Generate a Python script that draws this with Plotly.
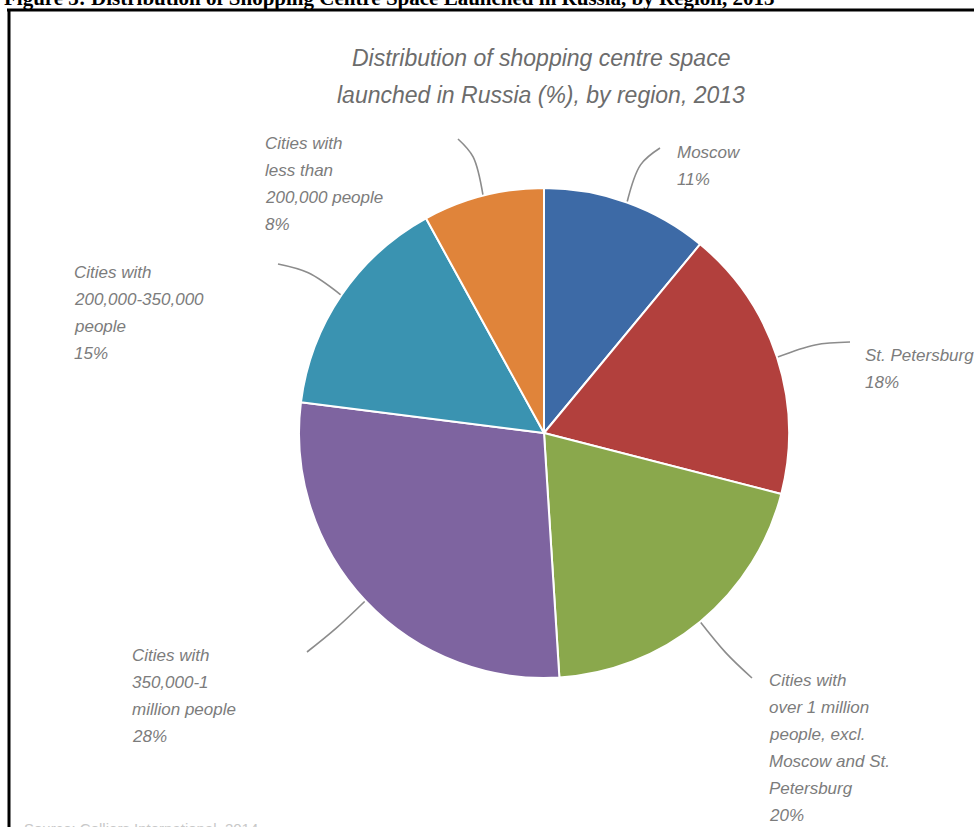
import math
import plotly.graph_objects as go

# Share of shopping centre space launched in 2013, by region (clockwise from 12 o'clock)
regions = [
    "Moscow",
    "St. Petersburg",
    "Cities with over 1 million people, excl. Moscow and St. Petersburg",
    "Cities with 350,000-1 million people",
    "Cities with 200,000-350,000 people",
    "Cities with less than 200,000 people",
]
shares = [11, 18, 20, 28, 15, 8]
label_lines = [
    ["Moscow"],
    ["St. Petersburg"],
    ["Cities with", "over 1 million", "people, excl.", "Moscow and St.", "Petersburg"],
    ["Cities with", "350,000-1", "million people"],
    ["Cities with", "200,000-350,000", "people"],
    ["Cities with", "less than", "200,000 people"],
]
colors = ["#3d6aa6", "#b2403d", "#8aa84c", "#7e64a0", "#3a93b1", "#e0843a"]

W, H = 974, 827
CX, CY, R = 544, 433, 245

# label block placement (left x, first-line y) and leader-line end points, in pixels
label_pos = [(675, 152), (863, 355), (767, 680), (130, 655), (72, 272), (263, 143)]
leader_end = [(660, 148), (850, 342), (752, 678), (307, 652), (278, 264), (458, 139)]
LINE_H = 27

fig = go.Figure()

fig.add_trace(go.Pie(
    labels=regions,
    values=shares,
    sort=False,
    direction="clockwise",
    rotation=0,
    marker=dict(colors=colors, line=dict(color="white", width=2)),
    textinfo="none",
    hoverinfo="label+percent",
    showlegend=False,
    domain=dict(x=[(CX - R) / W, (CX + R) / W],
                y=[(H - CY - R) / H, (H - CY + R) / H]),
))

annotations = []
total = sum(shares)
cum = 0
for i, v in enumerate(shares):
    mid = (cum + v / 2) / total * 2 * math.pi
    cum += v
    dx, dy = math.sin(mid), -math.cos(mid)
    sx, sy = CX + R * dx, CY + R * dy
    mx, my = CX + (R + 40) * dx, CY + (R + 40) * dy
    ex, ey = leader_end[i]
    fig.add_trace(go.Scatter(
        x=[sx, mx, ex], y=[sy, my, ey], mode="lines",
        line=dict(color="#8c8c8c", width=1.6, shape="spline", smoothing=1.0),
        hoverinfo="skip", showlegend=False,
    ))
    lx, ly = label_pos[i]
    lines = label_lines[i] + [f"{v}%"]
    for k, t in enumerate(lines):
        annotations.append(dict(
            x=lx, y=ly + k * LINE_H, xref="x", yref="y", text=t,
            showarrow=False, xanchor="left", yanchor="middle",
            font=dict(family="Liberation Sans", size=17, color="#7c7c7c", style="italic"),
        ))

# chart title
for k, t in enumerate(["Distribution of shopping centre space",
                       "launched in Russia (%), by region, 2013"]):
    annotations.append(dict(
        x=541, y=58 + k * 37, xref="x", yref="y", text=t, showarrow=False,
        xanchor="center", yanchor="middle",
        font=dict(family="Liberation Sans", size=23, color="#6c6c6c", style="italic"),
    ))

# document caption above the frame and source line below it
annotations.append(dict(
    x=2, y=12, xref="x", yref="y", xanchor="left", yanchor="bottom", showarrow=False,
    text="<b>Figure 3: Distribution of Shopping Centre Space Launched in Russia, by Region, 2013</b>",
    font=dict(family="Liberation Serif", size=21, color="#000000"),
))
annotations.append(dict(
    x=22, y=818, xref="x", yref="y", xanchor="left", yanchor="top", showarrow=False,
    text="Source: Colliers International, 2014",
    font=dict(family="Liberation Sans", size=15, color="#c8c8c8"),
))

shapes = [
    dict(type="line", xref="x", yref="y", x0=7, x1=W, y0=10, y1=10,
         line=dict(color="black", width=3)),
    dict(type="line", xref="x", yref="y", x0=9, x1=9, y0=10, y1=H,
         line=dict(color="black", width=3)),
]

fig.update_layout(
    width=W, height=H,
    margin=dict(l=0, r=0, t=0, b=0),
    paper_bgcolor="white", plot_bgcolor="rgba(0,0,0,0)",
    xaxis=dict(range=[0, W], visible=False, fixedrange=True, domain=[0, 1]),
    yaxis=dict(range=[H, 0], visible=False, fixedrange=True, domain=[0, 1]),
    annotations=annotations,
    shapes=shapes,
    showlegend=False,
)

fig.write_html("out.html")
